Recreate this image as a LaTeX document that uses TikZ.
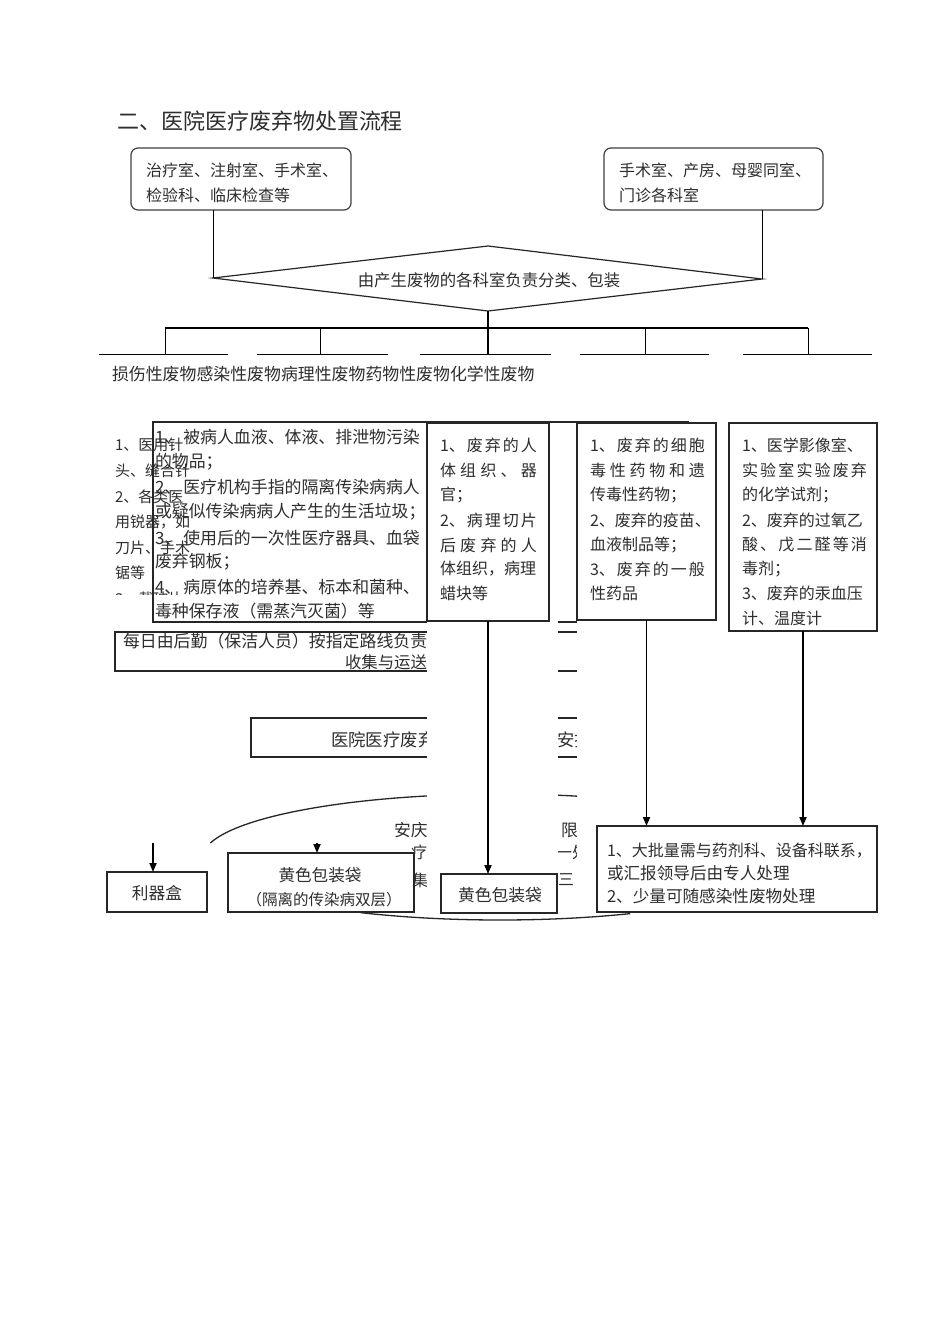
\documentclass[tikz,border=0pt]{standalone}
\usepackage{fontspec}
\setmainfont{Noto Sans CJK SC}
\usetikzlibrary{arrows.meta}
\newcommand\fsz[1]{\fontsize{#1pt}{#1pt}\selectfont}
\newcommand\jst[2]{\hbox to #1pt{#2}}
\begin{document}
\begin{tikzpicture}[x=1pt,y=-1pt,line join=miter]
\tikzset{
  txt/.style={anchor=west, inner sep=0pt, outer sep=0pt, text=black!82},
  ctxt/.style={inner sep=0pt, outer sep=0pt, text=black!82},
  boxln/.style={draw=black!85, line width=1.2pt},
  obox/.style={draw=black!85, line width=1.2pt, inner sep=0pt, outer sep=0pt},
  wbox/.style={draw=black!85, line width=1.2pt, fill=white, inner sep=0pt, outer sep=0pt},
  rbox/.style={draw=black!75, line width=1.2pt, rounded corners=7pt, inner sep=0pt, outer sep=0pt, fill=white},
  thinln/.style={draw=black, line width=1pt},
  arr/.style={draw=black, line width=1.8pt, -{Triangle[length=9pt,width=7pt]}},
}
\fill[white] (0,0) rectangle (950,1342);
\useasboundingbox (0,0) rectangle (950,1342);

% title
\node[txt, font=\fsz{22}] (title) at (117,121) {二、医院医疗废弃物处置流程};

% top boxes
\node[rbox, minimum width=220pt, minimum height=62pt] (lb) at (241,179) {};
\node[rbox, minimum width=219pt, minimum height=62pt] (rb) at (713.5,179) {};
\node[txt, font=\fsz{16}] (lbt1) at (146,170) {治疗室、注射室、手术室、};
\node[txt, font=\fsz{16}] (lbt2) at (146,195) {检验科、临床检查等};
\node[txt, font=\fsz{16}] (rbt1) at (619,170) {手术室、产房、母婴同室、};
\node[txt, font=\fsz{16}] (rbt2) at (619,195) {门诊各科室};

% diamond
\coordinate (dL) at (213,278);
\coordinate (dR) at (762,279);
\coordinate (dT) at (488,246);
\coordinate (dB) at (488,311);
\draw[boxln] (dL) -- (dT) -- (dR) -- (dB) -- cycle;
\node[ctxt, font=\fsz{16.4}] (dtx) at (489,280) {由产生废物的各科室负责分类、包装};
\draw[thinln] (lb.south -| dL) -- (dL);
\draw[thinln] (rb.south -| dR) -- (dR);

% fan-out
\coordinate (trunk) at (488,354);
\draw[thinln, line width=1.5pt] (dB) -- (trunk);
\coordinate (barL) at (165,328);
\coordinate (barR) at (808,328);
\draw[thinln, line width=1.4pt] (barL) -- (barR);
\foreach \xx in {165,320,645,808} {
  \coordinate (dropT) at (\xx,328);
  \coordinate (dropB) at (\xx,354);
  \draw[thinln] (dropT) -- (dropB);
}
\foreach \aa/\bb in {99/228,257/388,420/551,580/709,743/872} {
  \coordinate (segA) at (\aa,354);
  \coordinate (segB) at (\bb,354);
  \draw[thinln] (segA) -- (segB);
}
\node[txt, font=\fsz{16.9}] (cats) at (112,374) {损伤性废物感染性废物病理性废物药物性废物化学性废物};

% left column text (clipped)
\begin{scope}
\clip (100,425) rectangle (215,594);
\node[txt, font=\fsz{15}] (s1) at (115,445) {1、医用针};
\node[txt, font=\fsz{15}] (s2) at (115,471) {头、缝合针};
\node[txt, font=\fsz{15}] (s3) at (115,497) {2、各类医};
\node[txt, font=\fsz{15}] (s4) at (115,522) {用锐器，如};
\node[txt, font=\fsz{15}] (s5) at (115,548) {刀片、手术};
\node[txt, font=\fsz{15}] (s6) at (115,573) {锯等};
\node[txt, font=\fsz{15}] (s7) at (115,599) {3、载玻片};
\end{scope}

% box 2 (infectious)
\node[obox, minimum width=535pt, minimum height=200pt] (b2) at (420.5,522) {};
\node[txt, font=\fsz{16.9}] (b2t1) at (155,437) {1、\hspace{2pt}被病人血液、体液、排泄物污染};
\node[txt, font=\fsz{16.9}] (b2t2) at (155,462) {的物品；};
\node[txt, font=\fsz{16.9}] (b2t3) at (155,487) {2、\hspace{2pt}医疗机构手指的隔离传染病病人};
\node[txt, font=\fsz{16.9}] (b2t4) at (155,512) {或疑似传染病病人产生的生活垃圾；};
\node[txt, font=\fsz{16.9}] (b2t5) at (155,538) {3、\hspace{2pt}使用后的一次性医疗器具、血袋};
\node[txt, font=\fsz{16.9}] (b2t6) at (155,562) {废弃钢板；};
\node[txt, font=\fsz{16.9}] (b2t7) at (155,587) {4、\hspace{2pt}病原体的培养基、标本和菌种、};
\node[txt, font=\fsz{16.9}] (b2t8) at (155,611) {毒种保存液（需蒸汽灭菌）等};

% collection box
\node[obox, minimum width=645pt, minimum height=39pt] (col) at (437.5,651.5) {};
\node[txt, font=\fsz{16.9}] (colt1) at (123,641) {每日由后勤（保洁人员）按指定路线负责};
\node[txt, font=\fsz{16.4}] (colt2) at (345,662) {收集与运送};

% hospital box
\node[obox, minimum width=509pt, minimum height=39pt] (hos) at (505.5,737.5) {};
\node[txt, font=\fsz{17.4}] (host1) at (331,740) {医院医疗废弃};
\node[txt, font=\fsz{17.4}] (host2) at (557.2,740) {安排};

% ellipse (partly hidden)
\coordinate (ell) at (500,857);
\draw[black!85, line width=1.3pt] plot[domain=167.2:40, samples=80] ({500+297*cos(\x)},{857-63*sin(\x)});
\draw[black!85, line width=1.3pt] plot[domain=242:296, samples=40] ({500+297*cos(\x)},{857-63*sin(\x)});
\node[txt, font=\fsz{16.8}] (e1a) at (394,830) {安庆};
\node[txt, font=\fsz{16.8}] (e1b) at (561,830) {限};
\node[txt, font=\fsz{16}] (e2a) at (411,852) {疗};
\node[txt, font=\fsz{16}] (e2b) at (556,852) {一处};
\node[txt, font=\fsz{16}] (e3a) at (412,880) {集};
\node[txt, font=\fsz{16}] (e3b) at (558,880) {三};

% white covers
\fill[white] (427,424) rectangle (558,905);
\fill[white] (577,424) rectangle (885,911);

% boxes 3,4,5
\node[wbox, minimum width=122pt, minimum height=198pt] (b3) at (488,522) {};
\node[wbox, minimum width=139pt, minimum height=197pt] (b4) at (646.5,521.5) {};
\node[wbox, minimum width=148pt, minimum height=208pt] (b5) at (803,527) {};

% box 3 text
\node[txt, font=\fsz{16}] (b3t1) at (440,445) {\jst{97}{1、\hfil 废\hfil 弃\hfil 的\hfil 人}};
\node[txt, font=\fsz{16}] (b3t2) at (440,470) {\jst{97}{体\hfil 组\hfil 织\hfil 、\hfil 器}};
\node[txt, font=\fsz{16}] (b3t3) at (440,495) {官；};
\node[txt, font=\fsz{16}] (b3t4) at (440,520) {\jst{97}{2、\hfil 病\hfil 理\hfil 切\hfil 片}};
\node[txt, font=\fsz{16}] (b3t5) at (440,545) {\jst{97}{后\hfil 废\hfil 弃\hfil 的\hfil 人}};
\node[txt, font=\fsz{16}] (b3t6) at (440,569) {体组织，病理};
\node[txt, font=\fsz{16}] (b3t7) at (440,593) {蜡块等};

% box 4 text
\node[txt, font=\fsz{16}] (b4t1) at (590,445) {\jst{115}{1、\hfil 废\hfil 弃\hfil 的\hfil 细\hfil 胞}};
\node[txt, font=\fsz{16}] (b4t2) at (590,470) {\jst{115}{毒\hfil 性\hfil 药\hfil 物\hfil 和\hfil 遗}};
\node[txt, font=\fsz{16}] (b4t3) at (590,495) {传毒性药物；};
\node[txt, font=\fsz{16}] (b4t4) at (590,520) {2、废弃的疫苗、};
\node[txt, font=\fsz{16}] (b4t5) at (590,545) {血液制品等；};
\node[txt, font=\fsz{16}] (b4t6) at (590,569) {\jst{115}{3、\hfil 废\hfil 弃\hfil 的\hfil 一\hfil 般}};
\node[txt, font=\fsz{16}] (b4t7) at (590,593) {性药品};

% box 5 text
\node[txt, font=\fsz{16}] (b5t1) at (742,445) {1、医学影像室、};
\node[txt, font=\fsz{16}] (b5t2) at (742,470) {\jst{125}{实\hfil 验\hfil 室\hfil 实\hfil 验\hfil 废\hfil 弃}};
\node[txt, font=\fsz{16}] (b5t3) at (742,495) {的化学试剂；};
\node[txt, font=\fsz{16}] (b5t4) at (742,520) {2、废弃的过氧乙};
\node[txt, font=\fsz{16}] (b5t5) at (742,545) {\jst{125}{酸\hfil 、\hfil 戊\hfil 二\hfil 醛\hfil 等\hfil 消}};
\node[txt, font=\fsz{16}] (b5t6) at (742,569) {毒剂；};
\node[txt, font=\fsz{16}] (b5t7) at (742,593) {3、废弃的汞血压};
\node[txt, font=\fsz{16}] (b5t8) at (742,618) {计、温度计};

% bottom boxes
\node[wbox, minimum width=100pt, minimum height=40pt] (lq) at (157,892) {};
\node[ctxt, font=\fsz{16.7}] (lqt) at (157,893) {利器盒};
\node[wbox, minimum width=186pt, minimum height=59pt] (gl) at (321,882.5) {};
\node[ctxt, font=\fsz{16.6}] (glt1) at (320,875) {黄色包装袋};
\node[ctxt, font=\fsz{15.5}] (glt2) at (324,900) {（隔离的传染病双层）};
\node[wbox, minimum width=116pt, minimum height=39pt] (yb) at (499,893.5) {};
\node[ctxt, font=\fsz{16.8}] (ybt) at (500,895) {黄色包装袋};
\node[wbox, minimum width=280pt, minimum height=86pt] (big) at (737,869) {};
\node[txt, font=\fsz{16}] (bigt1) at (607,851) {1、大批量需与药剂科、设备科联系，};
\node[txt, font=\fsz{16.6}] (bigt2) at (607,873) {或汇报领导后由专人处理};
\node[txt, font=\fsz{16.6}] (bigt3) at (607,896) {2、少量可随感染性废物处理};

% arrows
\draw[arr] (b3.south) -- (b3.south |- yb.north);
\draw[arr] (b4.south) -- (b4.south |- big.north);
\draw[arr] (b5.south) -- (b5.south |- big.north);
\coordinate (lqs) at (153,843);
\draw[arr] (lqs) -- (lqs |- lq.north);
\coordinate (gls) at (317,843);
\draw[arr] (gls) -- (gls |- gl.north);
\end{tikzpicture}
\end{document}
